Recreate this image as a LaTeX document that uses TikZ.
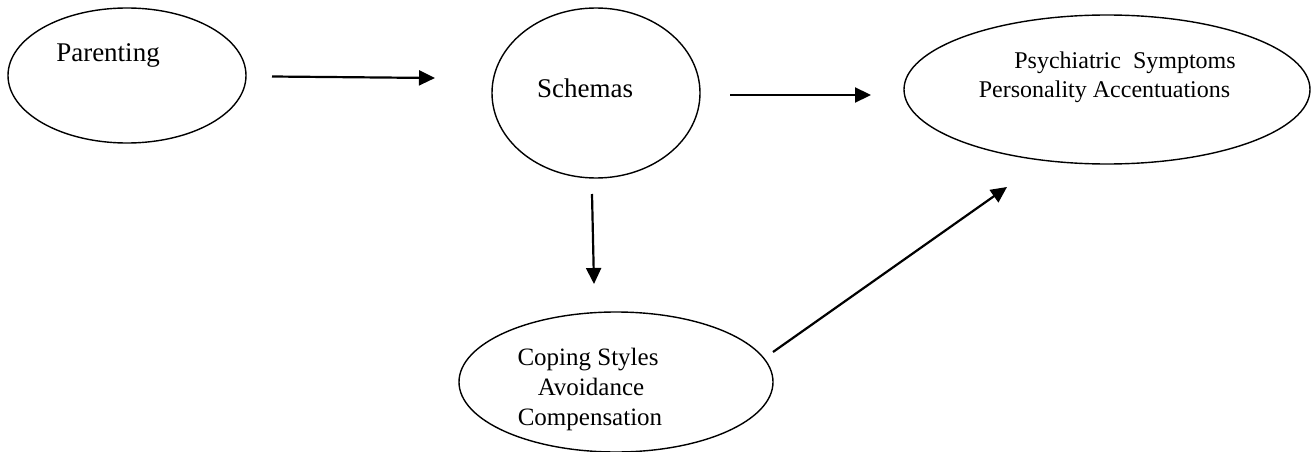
\documentclass[tikz,border=0pt]{standalone}
\usepackage{fontspec}
\setmainfont{Liberation Serif}
\usetikzlibrary{arrows.meta,shapes.geometric}
\begin{document}
\begin{tikzpicture}[x=1pt,y=-1pt,
  oval/.style={draw, ellipse, line width=1.4pt, inner sep=0pt},
  lbl/.style={anchor=base, font=\fontsize{25}{30}\selectfont, inner sep=0pt},
  big/.style={font=\fontsize{27}{32}\selectfont},
  small/.style={font=\fontsize{24}{29}\selectfont},
  arr/.style={line width=2.2pt, -{Triangle[length=16pt,width=15pt]}}]
\useasboundingbox (0,0) rectangle (1314,452);
% ovals
\node[oval, minimum width=238pt, minimum height=135pt] (par) at (127,75.5) {};
\node[oval, minimum width=208pt, minimum height=170pt] (sch) at (596,93) {};
\node[oval, minimum width=406pt, minimum height=149pt] (psy) at (1107,89.5) {};
\node[oval, minimum width=314pt, minimum height=140pt] (cop) at (616,382) {};
% texts
\node[lbl, big] (tpar) at (108,62) {Parenting};
\node[lbl, big] (tsch) at (585,97) {Schemas};
\node[lbl, small] (tps1) at (1125,69) {Psychiatric\ \ Symptoms};
\node[lbl, small] (tps2) at (1104.5,97) {Personality Accentuations};
\node[lbl] (tco1) at (588,365) {Coping Styles};
\node[lbl] (tco2) at (591,395) {Avoidance};
\node[lbl] (tco3) at (590,425) {Compensation};
% arrow end points
\coordinate (a1s) at (272,76.5);
\coordinate (a1e) at (435,78);
\coordinate (a2s) at (730,95);
\coordinate (a2e) at (871,95);
\coordinate (a3s) at (592,194);
\coordinate (a3e) at (594,284);
\coordinate (a4s) at (773,352);
\coordinate (a4e) at (1007,187);
\draw[arr] (a1s) -- (a1e);
\draw[arr] (a2s) -- (a2e);
\draw[arr] (a3s) -- (a3e);
\draw[arr] (a4s) -- (a4e);
\end{tikzpicture}
\end{document}
